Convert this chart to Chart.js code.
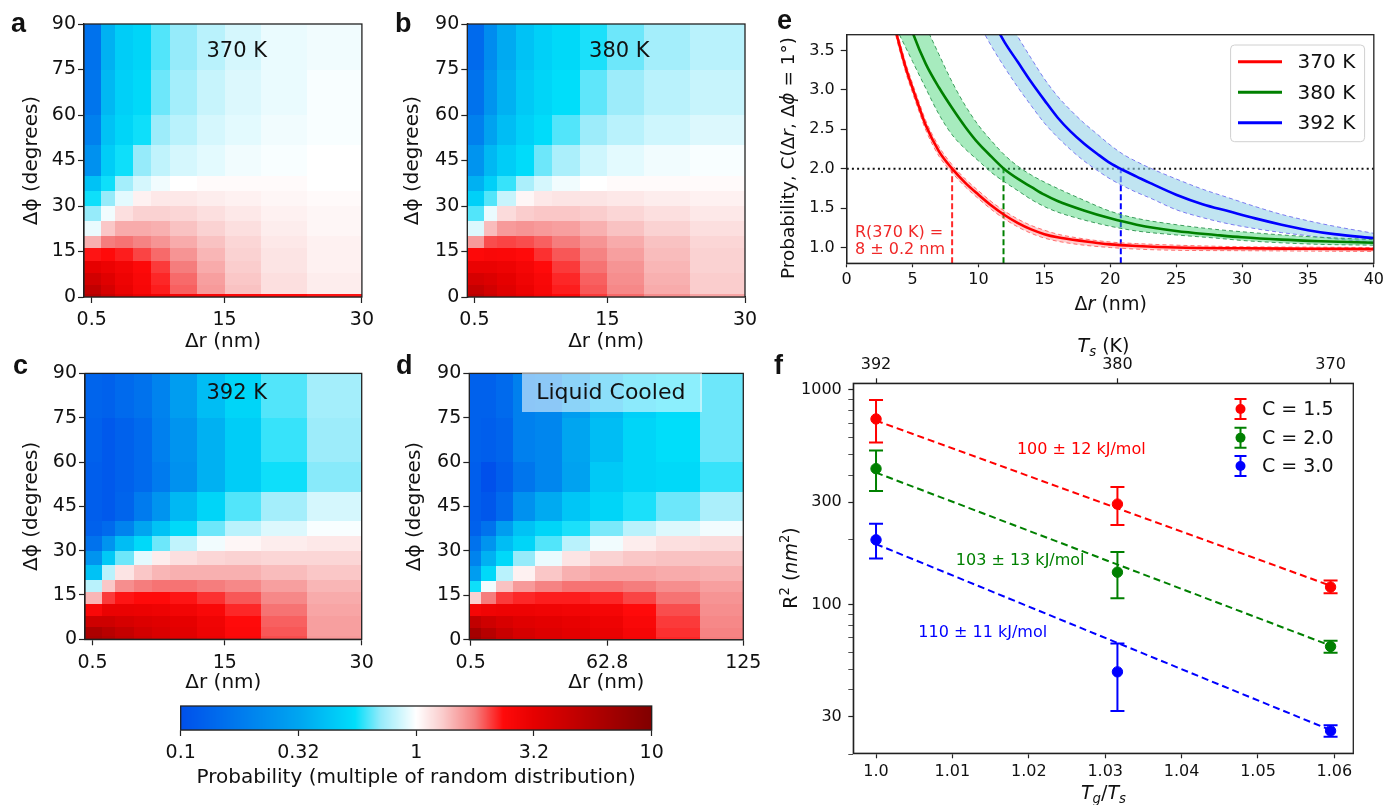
<!DOCTYPE html>
<html><head><meta charset="utf-8">
<script src="https://cdn.jsdelivr.net/npm/chart.js@4.4.1/dist/chart.umd.min.js"></script>
<style>
body{margin:0;background:#fff;}
#fig{position:relative;width:1387px;height:805px;overflow:hidden;font-family:'DejaVu Sans',sans-serif;color:#111;background:#fff;}
.cv{position:absolute;}
.t{position:absolute;white-space:nowrap;line-height:1;}
.t sub,.t sup{font-size:70%;line-height:0;}
</style></head><body><div id="fig"></div>
<script>
// ---------------- DATA ----------------
// heat maps: log10(probability), rows bottom(0deg) -> top(90deg), cols small r -> large r
const phiEdges = [0,1,4,8,12,16,20,25,30,35,40,50,60,75,90];
const rEdges30 = [-0.35,1.5,3,5,7,9,12,15,19,24,30];
const rEdges125 = [-0.15,5,12,20,30,42,55,70,85,105,125];
const heat370 = [
 [0.75,0.65,0.55,0.48,0.45,0.42,0.40,0.38,0.37,0.36],
 [0.68,0.58,0.48,0.41,0.35,0.28,0.20,0.13,0.07,0.04],
 [0.60,0.53,0.46,0.40,0.34,0.27,0.19,0.12,0.07,0.04],
 [0.50,0.47,0.43,0.38,0.32,0.25,0.17,0.11,0.06,0.03],
 [0.36,0.37,0.35,0.31,0.27,0.21,0.15,0.10,0.06,0.03],
 [0.16,0.25,0.26,0.24,0.21,0.17,0.13,0.09,0.05,0.03],
 [-0.03,0.12,0.17,0.17,0.16,0.13,0.10,0.07,0.04,0.02],
 [-0.15,-0.02,0.07,0.10,0.10,0.09,0.07,0.05,0.03,0.02],
 [-0.25,-0.15,-0.04,0.03,0.05,0.05,0.04,0.03,0.02,0.01],
 [-0.38,-0.25,-0.13,-0.06,-0.02,0.00,0.01,0.01,0.01,0.00],
 [-0.62,-0.33,-0.25,-0.15,-0.09,-0.06,-0.04,-0.02,-0.01,0.00],
 [-0.72,-0.38,-0.30,-0.25,-0.14,-0.10,-0.06,-0.04,-0.02,-0.01],
 [-0.78,-0.42,-0.32,-0.28,-0.18,-0.13,-0.08,-0.05,-0.03,-0.01],
 [-0.80,-0.45,-0.33,-0.30,-0.20,-0.15,-0.10,-0.06,-0.03,-0.02]
];
const heat380 = [
 [0.72,0.64,0.56,0.50,0.44,0.38,0.32,0.27,0.22,0.18],
 [0.66,0.60,0.53,0.47,0.41,0.35,0.29,0.23,0.17,0.11],
 [0.58,0.55,0.50,0.45,0.40,0.34,0.28,0.22,0.16,0.11],
 [0.48,0.48,0.46,0.42,0.37,0.32,0.26,0.21,0.15,0.10],
 [0.38,0.40,0.39,0.37,0.33,0.29,0.24,0.19,0.14,0.10],
 [0.20,0.30,0.31,0.30,0.28,0.25,0.21,0.17,0.13,0.09],
 [-0.05,0.14,0.20,0.21,0.20,0.19,0.16,0.13,0.10,0.07],
 [-0.20,-0.03,0.08,0.11,0.12,0.12,0.11,0.09,0.07,0.05],
 [-0.32,-0.20,-0.08,0.02,0.05,0.06,0.06,0.05,0.04,0.03],
 [-0.45,-0.32,-0.22,-0.12,-0.06,-0.02,0.00,0.01,0.01,0.01],
 [-0.60,-0.42,-0.33,-0.27,-0.18,-0.12,-0.07,-0.04,-0.02,-0.01],
 [-0.72,-0.52,-0.40,-0.32,-0.27,-0.20,-0.14,-0.10,-0.07,-0.05],
 [-0.80,-0.60,-0.45,-0.35,-0.30,-0.26,-0.19,-0.14,-0.10,-0.08],
 [-0.85,-0.65,-0.48,-0.38,-0.32,-0.28,-0.24,-0.18,-0.13,-0.10]
];
const heat392 = [
 [0.80,0.75,0.68,0.62,0.57,0.53,0.47,0.39,0.30,0.20],
 [0.78,0.72,0.66,0.60,0.56,0.52,0.46,0.38,0.29,0.19],
 [0.62,0.62,0.58,0.55,0.53,0.50,0.45,0.37,0.28,0.19],
 [0.40,0.48,0.48,0.47,0.46,0.44,0.40,0.34,0.26,0.18],
 [0.15,0.32,0.36,0.37,0.37,0.36,0.33,0.29,0.23,0.17],
 [-0.10,0.12,0.22,0.25,0.26,0.26,0.25,0.23,0.19,0.15],
 [-0.38,-0.10,0.06,0.12,0.15,0.16,0.16,0.16,0.14,0.12],
 [-0.60,-0.35,-0.18,-0.04,0.04,0.07,0.09,0.10,0.09,0.09],
 [-0.80,-0.60,-0.40,-0.28,-0.18,-0.09,-0.02,0.02,0.04,0.05],
 [-0.90,-0.85,-0.70,-0.50,-0.38,-0.28,-0.18,-0.10,-0.05,-0.01],
 [-0.92,-0.95,-0.88,-0.75,-0.60,-0.42,-0.30,-0.20,-0.13,-0.06],
 [-0.92,-0.95,-0.90,-0.85,-0.75,-0.62,-0.45,-0.33,-0.25,-0.16],
 [-0.90,-0.95,-0.90,-0.85,-0.72,-0.60,-0.45,-0.33,-0.22,-0.14],
 [-0.88,-0.90,-0.85,-0.80,-0.70,-0.55,-0.40,-0.30,-0.20,-0.13]
];
const heatLiquid = [
 [0.85,0.76,0.66,0.60,0.55,0.52,0.49,0.43,0.34,0.25],
 [0.82,0.73,0.64,0.58,0.54,0.51,0.48,0.42,0.33,0.24],
 [0.68,0.62,0.57,0.53,0.51,0.49,0.46,0.40,0.32,0.23],
 [0.42,0.45,0.46,0.46,0.45,0.44,0.42,0.37,0.30,0.22],
 [0.10,0.25,0.32,0.34,0.35,0.35,0.34,0.31,0.26,0.21],
 [-0.25,-0.02,0.13,0.20,0.24,0.26,0.26,0.25,0.22,0.19],
 [-0.55,-0.28,-0.10,0.03,0.12,0.16,0.18,0.18,0.17,0.16],
 [-0.70,-0.45,-0.28,-0.15,-0.03,0.06,0.10,0.12,0.13,0.13],
 [-0.80,-0.60,-0.40,-0.30,-0.20,-0.10,-0.02,0.04,0.07,0.08],
 [-0.90,-0.80,-0.55,-0.38,-0.30,-0.24,-0.17,-0.10,-0.05,-0.02],
 [-0.92,-0.96,-0.85,-0.62,-0.48,-0.36,-0.30,-0.24,-0.18,-0.12],
 [-0.92,-1.00,-0.92,-0.78,-0.68,-0.52,-0.35,-0.30,-0.28,-0.22],
 [-0.90,-0.92,-0.88,-0.72,-0.68,-0.50,-0.40,-0.30,-0.26,-0.18],
 [-0.90,-0.90,-0.85,-0.72,-0.68,-0.55,-0.42,-0.32,-0.27,-0.18]
];
const heatYTicks = [0,15,30,45,60,75,90];
const heatXTicks30 = [0.5,15,30];
const heatXTicks125 = [0.5,62.8,125];
const cbTickValues = [0.1,0.316,1,3.16,10];
const cbTickLabels = ['0.1','0.32','1','3.2','10'];

// panel e
const eX370 = [3.6,3.8,4,4.5,5,5.5,6,7,8,9,10,11,12,13,14,15,16,18,20,22,25,30,35,40];
const eY370 = [3.84,3.70,3.57,3.27,3.02,2.78,2.55,2.22,2.00,1.82,1.67,1.53,1.41,1.31,1.23,1.17,1.13,1.08,1.04,1.02,1.00,0.99,0.985,0.98];
const eHi370 = [3.90,3.76,3.63,3.33,3.08,2.84,2.61,2.28,2.05,1.87,1.72,1.58,1.46,1.36,1.28,1.22,1.17,1.11,1.07,1.05,1.03,1.01,1.005,1.00];
const eLo370 = [3.78,3.64,3.51,3.21,2.96,2.72,2.49,2.16,1.95,1.77,1.62,1.48,1.36,1.26,1.18,1.12,1.08,1.03,1.00,0.98,0.965,0.96,0.955,0.95];
const eX380 = [4,5,6,7,8,9,10,11,12,13,14,15,16,18,20,22,25,28,30,33,36,40];
const eY380 = [4.25,3.73,3.33,3.03,2.77,2.53,2.32,2.15,1.99,1.87,1.77,1.67,1.59,1.47,1.37,1.29,1.21,1.16,1.13,1.10,1.08,1.06];
const eHi380 = [4.90,4.30,3.82,3.45,3.10,2.80,2.55,2.35,2.17,2.03,1.92,1.83,1.75,1.60,1.46,1.37,1.29,1.23,1.20,1.16,1.13,1.10];
const eLo380 = [3.70,3.36,3.02,2.69,2.43,2.25,2.10,1.95,1.83,1.72,1.61,1.52,1.45,1.35,1.27,1.21,1.16,1.12,1.09,1.06,1.04,1.03];
const eX392 = [10,11,12,13,14,15,16,17,18,19,20,21,22,23,25,27,29,31,33,35,37,40];
const eY392 = [4.20,3.90,3.60,3.35,3.10,2.87,2.65,2.47,2.32,2.19,2.07,1.98,1.90,1.82,1.67,1.55,1.46,1.37,1.29,1.22,1.17,1.12];
const eHi392 = [4.60,4.25,3.95,3.67,3.40,3.14,2.92,2.74,2.58,2.44,2.30,2.18,2.09,2.01,1.87,1.74,1.63,1.52,1.42,1.34,1.27,1.18];
const eLo392 = [3.85,3.55,3.28,3.03,2.80,2.58,2.40,2.24,2.10,1.98,1.87,1.78,1.70,1.63,1.48,1.38,1.30,1.24,1.19,1.15,1.11,1.07];
const eRadius = [8, 11.9, 20.8];
const eThreshold = 2.0;
const eSeriesNames = ['370 K','380 K','392 K'];
const eXTicks = [0,5,10,15,20,25,30,35,40];
const eYTicks = [1.0,1.5,2.0,2.5,3.0,3.5];

// panel f
const fTgTs = [1.0, 1.0316, 1.0595];
const fTsLabels = ['392','380','370'];
const fC15 = [733, 294, 120.7], fC15Lo = [569, 235, 113], fC15Hi = [898, 353, 129.4];
const fC20 = [430, 141.6, 63.8], fC20Lo = [338, 107, 59.6], fC20Hi = [523, 176, 67.8];
const fC30 = [200.4, 48.6, 25.8], fC30Lo = [164, 31.9, 24.2], fC30Hi = [238, 65.9, 27.4];
const fFitX = [1.0, 1.0595];
const fFit15 = [720, 122.5], fFit20 = [412, 64.4], fFit30 = [191.4, 26];
const fSeriesNames = ['C = 1.5','C = 2.0','C = 3.0'];
const fEnergies = ['100 ± 12 kJ/mol','103 ± 13 kJ/mol','110 ± 11 kJ/mol'];
const fXTicks = [1.0,1.01,1.02,1.03,1.04,1.05,1.06];
const fXTickLabels = ['1.0','1.01','1.02','1.03','1.04','1.05','1.06'];
const fYMajor = [30,100,300,1000];
const fYMinor = [20,40,50,60,70,80,90,200,400,500,600,700,800,900];

// ---------------- RENDER ----------------
const fig = document.getElementById('fig');
Chart.defaults.font.family = "'DejaVu Sans', sans-serif";
Chart.defaults.color = '#111';
const AX = '#222';

const stops = [[-1,[0,80,235]],[-0.5,[0,165,240]],[-0.26,[0,222,250]],[-0.15,[150,235,250]],[0,[255,255,255]],
  [0.11,[250,205,205]],[0.25,[245,125,125]],[0.37,[255,10,10]],[0.5,[230,0,0]],[1,[128,0,0]]];
function cmap(v){
  v = Math.max(-1, Math.min(1, v));
  for (let k=0;k<stops.length-1;k++){
    const [a,ca]=stops[k],[b,cb]=stops[k+1];
    if (v<=b){ const t=(v-a)/(b-a); return 'rgb('+ca.map((c,i)=>Math.round(c+(cb[i]-c)*t)).join(',')+')'; }
  }
  return 'rgb(128,0,0)';
}
function mkCanvas(x,y,w,h){const c=document.createElement('canvas');c.width=w;c.height=h;c.className='cv';c.style.left=x+'px';c.style.top=y+'px';c.style.width=w+'px';c.style.height=h+'px';fig.appendChild(c);return c;}
function frame(chart){const {ctx,chartArea:a}=chart;ctx.save();ctx.strokeStyle=AX;ctx.lineWidth=1.3;ctx.strokeRect(a.left,a.top,a.right-a.left,a.bottom-a.top);ctx.restore();}

function heatChart(o){
  const c = mkCanvas(o.left,o.top,o.w,o.h);
  const plug = {
    id:'heat',
    beforeDatasetsDraw(chart){
      const {ctx,chartArea:a,scales:{x,y}}=chart;
      ctx.save();ctx.beginPath();ctx.rect(a.left,a.top,a.right-a.left,a.bottom-a.top);ctx.clip();
      for(let j=0;j<phiEdges.length-1;j++){
        const yb=Math.round(y.getPixelForValue(phiEdges[j])), yt=Math.round(y.getPixelForValue(phiEdges[j+1]));
        for(let i=0;i<o.edges.length-1;i++){
          const xl=Math.round(x.getPixelForValue(o.edges[i])), xr=Math.round(x.getPixelForValue(o.edges[i+1]));
          ctx.fillStyle=cmap(o.grid[j][i]);ctx.fillRect(xl,yt,xr-xl,yb-yt);
        }
      }
      ctx.restore();
    },
    afterDraw(chart){frame(chart);}
  };
  new Chart(c,{type:'scatter',data:{datasets:[{data:[]}]},
    options:{responsive:false,animation:false,devicePixelRatio:1,
      layout:{padding:{top:o.pt,right:o.pr,left:0,bottom:0}},
      plugins:{legend:{display:false},tooltip:{enabled:false}},
      scales:{
        x:{type:'linear',min:o.xmin,max:o.xmax,
           afterBuildTicks:s=>{s.ticks=o.xticks.map(v=>({value:v}));},
           afterFit:s=>{s.height=o.xh;},
           ticks:{font:{size:19},color:'#111',padding:6,maxRotation:0,autoSkip:false,callback:v=>String(v)},
           grid:{drawOnChartArea:false,tickLength:6,tickColor:AX,tickWidth:1.2},
           border:{color:AX,width:1.3},
           title:{display:true,text:'Δr (nm)',font:{size:20},color:'#111',padding:{top:0,bottom:o.tpb}}},
        y:{type:'linear',min:0,max:90,
           afterBuildTicks:s=>{s.ticks=heatYTicks.map(v=>({value:v}));},
           afterFit:s=>{s.width=o.yw;},
           ticks:{font:{size:19},color:'#111',padding:2,autoSkip:false},
           grid:{drawOnChartArea:false,tickLength:6,tickColor:AX,tickWidth:1.2},
           border:{color:AX,width:1.3},
           title:{display:true,text:'Δϕ (degrees)',font:{size:20},color:'#111',padding:{top:o.ytp,bottom:0}}}
      }},
    plugins:[plug]});
}
heatChart({left:0,top:0,w:380,h:360,pt:24,pr:18,yw:84,xh:63,xmin:-0.34,xmax:30,xticks:heatXTicks30,edges:rEdges30,grid:heat370,tpb:6.3,ytp:20});
heatChart({left:380,top:0,w:390,h:360,pt:24,pr:25,yw:87.3,xh:63,xmin:-0.28,xmax:30,xticks:heatXTicks30,edges:rEdges30,grid:heat380,tpb:6.3,ytp:21});
heatChart({left:0,top:360,w:380,h:340,pt:7.3,pr:18.3,yw:85,xh:60.7,xmin:-0.32,xmax:30,xticks:heatXTicks30,edges:rEdges30,grid:heat392,tpb:5,ytp:20});
heatChart({left:380,top:360,w:390,h:340,pt:7.3,pr:26.7,yw:89.3,xh:60.3,xmin:-0.14,xmax:125,xticks:heatXTicks125,edges:rEdges125,grid:heatLiquid,tpb:5,ytp:23});

// colorbar
(function(){
  const c = mkCanvas(160,695,520,110);
  const plug={id:'cbar',beforeDatasetsDraw(chart){
    const {ctx,chartArea:a,scales:{x}}=chart;
    for(let px=Math.floor(a.left);px<Math.ceil(a.right);px++){
      ctx.fillStyle=cmap(Math.log10(x.getValueForPixel(px+0.5)));ctx.fillRect(px,a.top,1,a.bottom-a.top);
    }}, afterDraw(chart){frame(chart);}};
  new Chart(c,{type:'scatter',data:{datasets:[{data:[]}]},
    options:{responsive:false,animation:false,devicePixelRatio:1,
      layout:{padding:{top:11,right:28.3,left:17,bottom:0}},
      plugins:{legend:{display:false},tooltip:{enabled:false}},
      scales:{
        x:{type:'logarithmic',min:0.1,max:10,
           afterBuildTicks:s=>{s.ticks=cbTickValues.map(v=>({value:v}));},
           afterFit:s=>{s.height=75;},
           ticks:{font:{size:19},color:'#111',padding:5.6,maxRotation:0,autoSkip:false,callback:(v,i)=>cbTickLabels[i]},
           grid:{drawOnChartArea:false,tickLength:6,tickColor:AX,tickWidth:1.2},
           border:{color:AX,width:1.3},
           title:{display:true,text:'Probability (multiple of random distribution)',font:{size:20},color:'#111',padding:{top:0,bottom:15}}},
        y:{display:false,min:0,max:1}
      }},
    plugins:[plug]});
})();

// panel e
(function(){
  const c = mkCanvas(770,0,617,320);
  const pts=(xs,ys)=>xs.map((x,i)=>({x,y:ys[i]}));
  const line=(xs,ys,col,w)=>({data:pts(xs,ys),borderColor:col,borderWidth:w,pointRadius:0,fill:false,cubicInterpolationMode:'monotone'});
  const edge=(xs,ys,col)=>({data:pts(xs,ys),borderColor:col,borderWidth:1,borderDash:[4,3],pointRadius:0,fill:false,cubicInterpolationMode:'monotone'});
  const edgeFill=(xs,ys,col,bg)=>({data:pts(xs,ys),borderColor:col,borderWidth:1,borderDash:[4,3],pointRadius:0,fill:'-1',backgroundColor:bg,cubicInterpolationMode:'monotone'});
  const vcol=['#ff2a2a','#008000','#0000ff'];
  const ds=[
    line(eX370,eY370,'#ff0000',2.6),
    line(eX380,eY380,'#008000',2.6),
    line(eX392,eY392,'#0000ff',2.6),
    edge(eX370,eHi370,'rgba(255,90,90,0.85)'),
    edgeFill(eX370,eLo370,'rgba(255,90,90,0.85)','rgba(255,110,110,0.35)'),
    edge(eX380,eHi380,'#3c9c5c'),
    edgeFill(eX380,eLo380,'#3c9c5c','rgba(60,210,110,0.45)'),
    edge(eX392,eHi392,'#7c7cf0'),
    edgeFill(eX392,eLo392,'#7c7cf0','rgba(150,210,232,0.6)'),
    {data:[{x:0,y:eThreshold},{x:40,y:eThreshold}],borderColor:'#111',borderWidth:2,borderDash:[2,3.2],pointRadius:0,fill:false}
  ];
  eRadius.forEach((r,i)=>ds.push({data:[{x:r,y:0.8},{x:r,y:eThreshold}],borderColor:vcol[i],borderWidth:2,borderDash:[6,3],pointRadius:0,fill:false}));
  const plug={id:'eextra',afterDatasetsDraw(chart){
    const {ctx,scales:{x,y}}=chart;
    ctx.save();
    ctx.fillStyle='#f02828';ctx.font="16px 'DejaVu Sans'";ctx.textAlign='left';ctx.textBaseline='middle';
    ctx.fillText('R(370 K) =',x.getPixelForValue(0.63),y.getPixelForValue(1.19));
    ctx.fillText('8 ± 0.2 nm',x.getPixelForValue(0.63),y.getPixelForValue(0.965));
    // legend
    const bx=460.6,by=45,bw=134,bh=96.7,r=4;
    ctx.beginPath();ctx.moveTo(bx+r,by);ctx.arcTo(bx+bw,by,bx+bw,by+bh,r);ctx.arcTo(bx+bw,by+bh,bx,by+bh,r);ctx.arcTo(bx,by+bh,bx,by,r);ctx.arcTo(bx,by,bx+bw,by,r);ctx.closePath();
    ctx.fillStyle='rgba(255,255,255,0.85)';ctx.fill();ctx.strokeStyle='#d0d0d0';ctx.lineWidth=1;ctx.stroke();
    const rows=[61.7,92.3,122.7],cols=['#ff0000','#008000','#0000ff'];
    ctx.font="20px 'DejaVu Sans'";ctx.fillStyle='#111';
    rows.forEach((ry,i)=>{ctx.strokeStyle=cols[i];ctx.lineWidth=3;ctx.beginPath();ctx.moveTo(468,ry);ctx.lineTo(512,ry);ctx.stroke();
      ctx.fillStyle='#111';ctx.fillText(eSeriesNames[i],527.6,ry+1);});
    ctx.restore();
  }, afterDraw(chart){frame(chart);}};
  new Chart(c,{type:'line',data:{datasets:ds},
    options:{responsive:false,animation:false,devicePixelRatio:1,
      layout:{padding:{top:34.7,right:12.3,left:0,bottom:0}},
      plugins:{legend:{display:false},tooltip:{enabled:false}},
      scales:{
        x:{type:'linear',min:0,max:40,
           afterBuildTicks:s=>{s.ticks=eXTicks.map(v=>({value:v}));},
           afterFit:s=>{s.height=56.7;},
           ticks:{font:{size:16},color:'#111',padding:3,maxRotation:0,autoSkip:false},
           grid:{drawOnChartArea:false,tickLength:4,tickColor:AX,tickWidth:1.2},
           border:{color:AX,width:1.3}},
        y:{type:'linear',min:0.8,max:3.7,
           afterBuildTicks:s=>{s.ticks=eYTicks.map(v=>({value:v}));},
           afterFit:s=>{s.width=76.7;},
           ticks:{font:{size:16},color:'#111',padding:6,autoSkip:false,callback:v=>Number(v).toFixed(1)},
           grid:{drawOnChartArea:false,tickLength:6,tickColor:AX,tickWidth:1.2},
           border:{color:AX,width:1.3}}
      }},
    plugins:[plug]});
})();

// panel f
(function(){
  const c = mkCanvas(770,320,617,485);
  const cols=['#ff0000','#008000','#0000ff'];
  const vals=[fC15,fC20,fC30],los=[fC15Lo,fC20Lo,fC30Lo],his=[fC15Hi,fC20Hi,fC30Hi],fits=[fFit15,fFit20,fFit30];
  const ds=[];
  vals.forEach((v,k)=>ds.push({data:fTgTs.map((x,i)=>({x,y:v[i]})),pointRadius:5.2,pointBackgroundColor:cols[k],pointBorderColor:cols[k],pointBorderWidth:1,showLine:false}));
  fits.forEach((f,k)=>ds.push({data:fFitX.map((x,i)=>({x,y:f[i]})),borderColor:cols[k],borderWidth:2,borderDash:[7,4],pointRadius:0,showLine:true,fill:false}));
  const plug={id:'fextra',
    beforeDatasetsDraw(chart){
      const {ctx,scales:{x,y}}=chart;ctx.save();ctx.lineWidth=2;
      vals.forEach((v,k)=>{ctx.strokeStyle=cols[k];fTgTs.forEach((t,i)=>{
        const px=x.getPixelForValue(t),y1=y.getPixelForValue(los[k][i]),y2=y.getPixelForValue(his[k][i]);
        ctx.beginPath();ctx.moveTo(px,y1);ctx.lineTo(px,y2);ctx.moveTo(px-7,y1);ctx.lineTo(px+7,y1);ctx.moveTo(px-7,y2);ctx.lineTo(px+7,y2);ctx.stroke();});});
      ctx.restore();
    },
    afterDatasetsDraw(chart){
      const {ctx,scales:{x,y}}=chart;ctx.save();
      ctx.font="16px 'DejaVu Sans'";ctx.textAlign='center';ctx.textBaseline='middle';
      const anchors=[[1.02687,526],[1.01887,160],[1.01397,74.1]];
      anchors.forEach((a,k)=>{ctx.fillStyle=cols[k];ctx.fillText(fEnergies[k],x.getPixelForValue(a[0]),y.getPixelForValue(a[1]));});
      // legend
      const rows=[89,117.7,146];ctx.textAlign='left';ctx.font="19px 'DejaVu Sans'";
      rows.forEach((ry,k)=>{ctx.strokeStyle=cols[k];ctx.fillStyle=cols[k];ctx.lineWidth=2;const gx=470.5;
        ctx.beginPath();ctx.moveTo(gx,ry-10);ctx.lineTo(gx,ry+10);ctx.moveTo(gx-6,ry-10);ctx.lineTo(gx+6,ry-10);ctx.moveTo(gx-6,ry+10);ctx.lineTo(gx+6,ry+10);ctx.stroke();
        ctx.beginPath();ctx.arc(gx,ry,5,0,Math.PI*2);ctx.fill();
        ctx.fillStyle='#111';ctx.fillText(fSeriesNames[k],492,ry+1);});
      ctx.restore();
    },
    afterDraw(chart){frame(chart);}};
  new Chart(c,{type:'scatter',data:{datasets:ds},
    options:{responsive:false,animation:false,devicePixelRatio:1,
      layout:{padding:{top:0,right:33.7,left:0,bottom:0}},
      plugins:{legend:{display:false},tooltip:{enabled:false}},
      scales:{
        x:{type:'linear',position:'bottom',min:0.997025,max:1.062475,
           afterBuildTicks:s=>{s.ticks=fXTicks.map(v=>({value:v}));},
           afterFit:s=>{s.height=51.7;},
           ticks:{font:{size:16},color:'#111',padding:4,maxRotation:0,autoSkip:false,callback:(v,i)=>fXTickLabels[i]},
           grid:{drawOnChartArea:false,tickLength:5,tickColor:AX,tickWidth:1.2},
           border:{color:AX,width:1.3}},
        x2:{type:'linear',position:'top',min:0.997025,max:1.062475,
           afterBuildTicks:s=>{s.ticks=fTgTs.map(v=>({value:v}));},
           afterFit:s=>{s.height=63.3;},
           ticks:{font:{size:16},color:'#111',padding:4,maxRotation:0,autoSkip:false,callback:(v,i)=>fTsLabels[i]},
           grid:{drawOnChartArea:false,tickLength:5,tickColor:AX,tickWidth:1.2},
           border:{color:AX,width:1.3}},
        y:{type:'logarithmic',min:20.28,max:1074.5,
           afterBuildTicks:s=>{s.ticks=fYMinor.concat(fYMajor).sort((a,b)=>a-b).map(v=>({value:v}));},
           afterFit:s=>{s.width=83.3;},
           ticks:{font:{size:16},color:'#111',padding:6.5,autoSkip:false,callback:v=>fYMajor.includes(v)?String(v):''},
           grid:{drawOnChartArea:false,tickLength:5,tickColor:AX,tickWidth:ctx=>fYMajor.includes(ctx.tick&&ctx.tick.value)?1.2:0.8},
           border:{color:AX,width:1.3}}
      }},
    plugins:[plug]});
})();

// ---------------- TEXT ----------------
function tb(html,x,base,size,opt={}){
  const d=document.createElement('div');d.className='t';d.innerHTML=html;d.style.fontSize=size+'px';
  d.style.top=(base-0.846*size)+'px';d.style.left=x+'px';
  if(opt.center)d.style.transform='translateX(-50%)';
  if(opt.font)d.style.fontFamily=opt.font;
  if(opt.bold)d.style.fontWeight='bold';
  fig.appendChild(d);return d;
}
function tc(html,cx,cy,size,rot){
  const d=document.createElement('div');d.className='t';d.innerHTML=html;d.style.fontSize=size+'px';
  d.style.left=cx+'px';d.style.top=cy+'px';
  d.style.transform='translate(-50%,-50%)'+(rot?' rotate(-90deg)':'');
  fig.appendChild(d);return d;
}
const LF="'Liberation Sans',Arial,sans-serif";
tb('a',11,33.3,27,{font:LF,bold:true});
tb('b',395,33.3,27,{font:LF,bold:true});
tb('c',13,375,27,{font:LF,bold:true});
tb('d',396,375,27,{font:LF,bold:true});
tb('e',777,30,27,{font:LF,bold:true});
tb('f',774,375,27,{font:LF,bold:true});
tb('370 K',236.7,57.3,21,{center:true});
tb('380 K',619.3,57.3,21,{center:true});
tb('392 K',236.7,399.3,21,{center:true});
const box=document.createElement('div');box.style.cssText='position:absolute;left:521.7px;top:373.3px;width:180px;height:38.4px;background:rgba(255,255,255,0.55);';fig.appendChild(box);
tb('Liquid Cooled',610.8,399.3,22,{center:true});
tc('Probability, C(Δ<i>r</i>, Δ<i>ϕ</i> = 1°)',788,158,18.5,true);
tc('Δ<i>r</i> (nm)',1110.7,303,19,false);
tc('<i>T<sub>s</sub></i> (K)',1103.5,345,19,false);
tc('<i>T<sub>g</sub></i>/<i>T<sub>s</sub></i>',1103.5,792,19,false);
tc('R<sup>2</sup> (<i>nm</i><sup>2</sup>)',790,568,19,true);
</script></body></html>
